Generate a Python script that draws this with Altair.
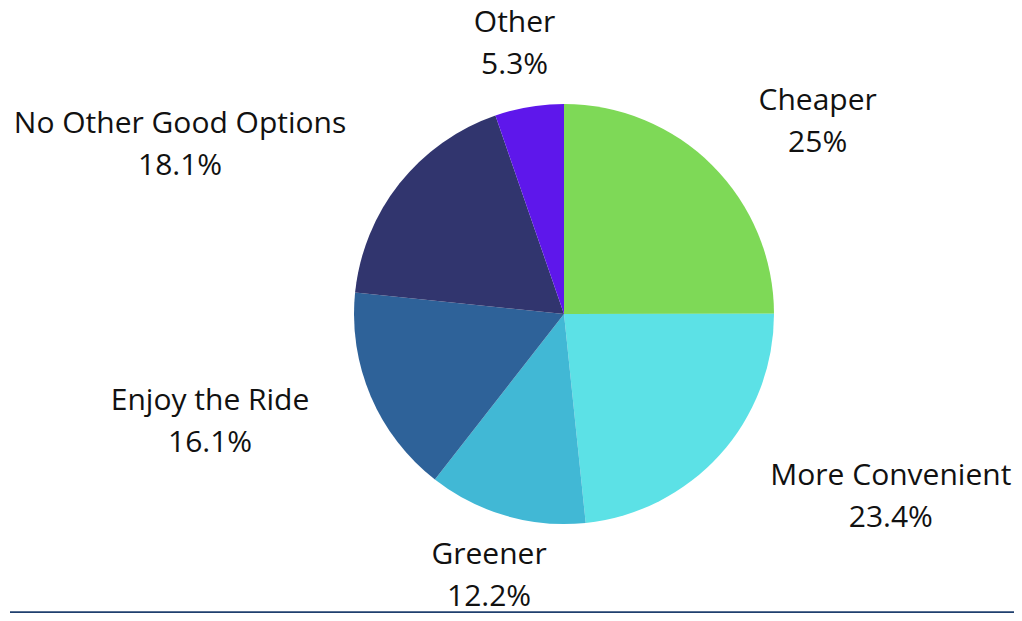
import altair as alt
import pandas as pd

categories = ["Cheaper", "More Convenient", "Greener", "Enjoy the Ride",
              "No Other Good Options", "Other"]
values = [25, 23.4, 12.2, 16.1, 18.1, 5.3]
colors = ["#7ed957", "#5ce1e6", "#41b8d5", "#2e6299", "#31356e", "#5e17eb"]

df = pd.DataFrame({"category": categories, "value": values,
                   "idx": list(range(len(categories)))})

CX, CY = 554, 304
R = 210
LR = 250
FONT = "Open Sans"

# label offsets from anchor (style only); anchor is the first line's middle
offsets = {
    "Cheaper": (77, -36),
    "More Convenient": (141, -5),
    "Greener": (-6, 1),
    "Enjoy the Ride": (-124, -11),
    "No Other Good Options": (-188, -35),
    "Other": (-8, -44),
}

base = alt.Chart(df)

arc = base.mark_arc(radius=R).encode(
    theta=alt.Theta("value:Q", stack=True),
    color=alt.Color("category:N", scale=alt.Scale(domain=categories, range=colors), legend=None),
    order=alt.Order("idx:Q"),
    x=alt.value(CX),
    y=alt.value(CY),
)

label_base = base.transform_joinaggregate(
    total="sum(value)"
).transform_window(
    cum="sum(value)", sort=[alt.SortField("idx")]
).transform_calculate(
    mid="(datum.cum - datum.value / 2) / datum.total * 2 * PI",
    label="datum.category + '|' + datum.value + '%'",
)

texts = []
for cat in categories:
    dx, dy = offsets[cat]
    t = label_base.transform_filter(
        alt.datum.category == cat
    ).mark_text(
        font=FONT, fontSize=30, lineHeight=42, lineBreak="|",
        align="center", baseline="middle", color="#111111", dx=dx, dy=dy,
    ).encode(
        theta=alt.Theta("mid:Q", scale=None),
        radius=alt.value(LR),
        text="label:N",
        x=alt.value(CX),
        y=alt.value(CY),
    )
    texts.append(t)

bar = alt.Chart(pd.DataFrame({"a": [0]})).mark_rule(
    color="#1f3f6e", strokeWidth=3.5
).encode(
    x=alt.value(0), x2=alt.value(1006), y=alt.value(603)
)

chart = alt.layer(arc, *texts, bar).resolve_scale(
    theta="independent"
).properties(
    width=1006, height=605,
    autosize=alt.AutoSizeParams(type="fit", contains="padding"),
    padding=0,
).configure_view(stroke=None)

chart.save("out.html", embed_options={"renderer": "svg", "actions": False})
